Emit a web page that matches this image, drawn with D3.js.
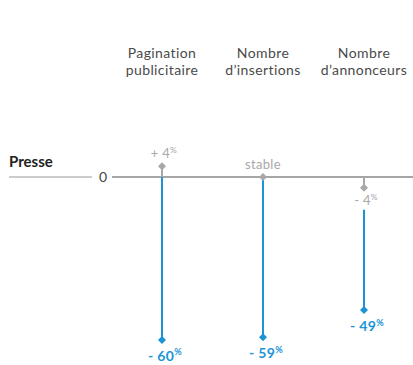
<!DOCTYPE html>
<html>
<head>
<meta charset="utf-8">
<script src="https://cdn.jsdelivr.net/npm/d3@7"></script>
<style>
  body { margin: 0; background: #fff; }
  text { font-family: "Lato", "Open Sans", sans-serif; }
</style>
</head>
<body>
<svg id="chart" width="413" height="365"></svg>
<script>
var categories = ["Pagination publicitaire", "Nombre d\u2019insertions", "Nombre d\u2019annonceurs"];
var headerLines = [["Pagination", "publicitaire"], ["Nombre", "d\u2019insertions"], ["Nombre", "d\u2019annonceurs"]];
var presseValues = [4, 0, -4];
var presseLabels = ["+ 4", "stable", "- 4"];
var otherValues = [-60, -59, -49];
var otherLabels = ["- 60", "- 59", "- 49"];

var grey = "#a8a8a8", blue = "#1b94d6";
var svg = d3.select("#chart");

var x = d3.scalePoint().domain(categories).range([162, 364]);
var y = d3.scaleLinear().domain([0, -60]).range([177, 340]);

// column headers
categories.forEach(function(c, i) {
  var t = svg.append("text")
    .attr("x", x(c)).attr("y", 58)
    .attr("text-anchor", "middle")
    .attr("font-size", 14).attr("letter-spacing", 0.4).attr("fill", "#4a4a4a");
  headerLines[i].forEach(function(l, j) {
    t.append("tspan").attr("x", x(c)).attr("dy", j ? 17 : 0).text(l);
  });
});

// row label and zero line
svg.append("text").attr("x", 9).attr("y", 167)
  .attr("font-size", 15).attr("font-weight", "bold").attr("fill", "#222")
  .text("Presse");
svg.append("line").attr("x1", 9).attr("x2", 92).attr("y1", y(0)).attr("y2", y(0))
  .attr("stroke", "#999").attr("stroke-width", 1);
svg.append("text").attr("x", 103).attr("y", y(0) + 5)
  .attr("text-anchor", "middle").attr("font-size", 14).attr("fill", "#444").text("0");
svg.append("line").attr("x1", 112).attr("x2", 413).attr("y1", y(0)).attr("y2", y(0))
  .attr("stroke", "#888").attr("stroke-width", 1.5);

var diamond = d3.symbol().type(d3.symbolSquare).size(32);

function pctLabel(g, xpos, ypos, txt, color, size, bold, anchorShift) {
  var t = g.append("text").attr("x", xpos + anchorShift).attr("y", ypos)
    .attr("text-anchor", "middle").attr("fill", color)
    .attr("font-size", size).attr("font-weight", bold ? "bold" : "normal")
    .attr("letter-spacing", 0.3);
  t.append("tspan").text(txt);
  if (txt !== "stable") {
    t.append("tspan").attr("font-size", size * 0.65).attr("dy", -size * 0.4).text("%");
  }
}

categories.forEach(function(c, i) {
  var cx = x(c);
  var pv = presseValues[i], ov = otherValues[i];
  var below = pv < 0;
  // blue stem
  var startY = below ? y(pv) + 22 : y(0);
  svg.append("line").attr("x1", cx).attr("x2", cx)
    .attr("y1", startY).attr("y2", y(ov))
    .attr("stroke", blue).attr("stroke-width", 2);
  // grey stem
  svg.append("line").attr("x1", cx).attr("x2", cx)
    .attr("y1", y(0)).attr("y2", y(pv))
    .attr("stroke", grey).attr("stroke-width", 2);
  svg.append("path").attr("d", diamond)
    .attr("transform", "translate(" + cx + "," + y(pv) + ") rotate(45)")
    .attr("fill", grey);
  var ly = below ? y(pv) + 17 : y(pv) - 8;
  pctLabel(svg, cx, ly, presseLabels[i], grey, 13, false, presseLabels[i] === "stable" ? 0 : 2);
  // blue diamond + label
  svg.append("path").attr("d", diamond)
    .attr("transform", "translate(" + cx + "," + y(ov) + ") rotate(45)")
    .attr("fill", blue);
  pctLabel(svg, cx, y(ov) + 21, otherLabels[i], blue, 14, true, 3);
});
</script>
</body>
</html>
